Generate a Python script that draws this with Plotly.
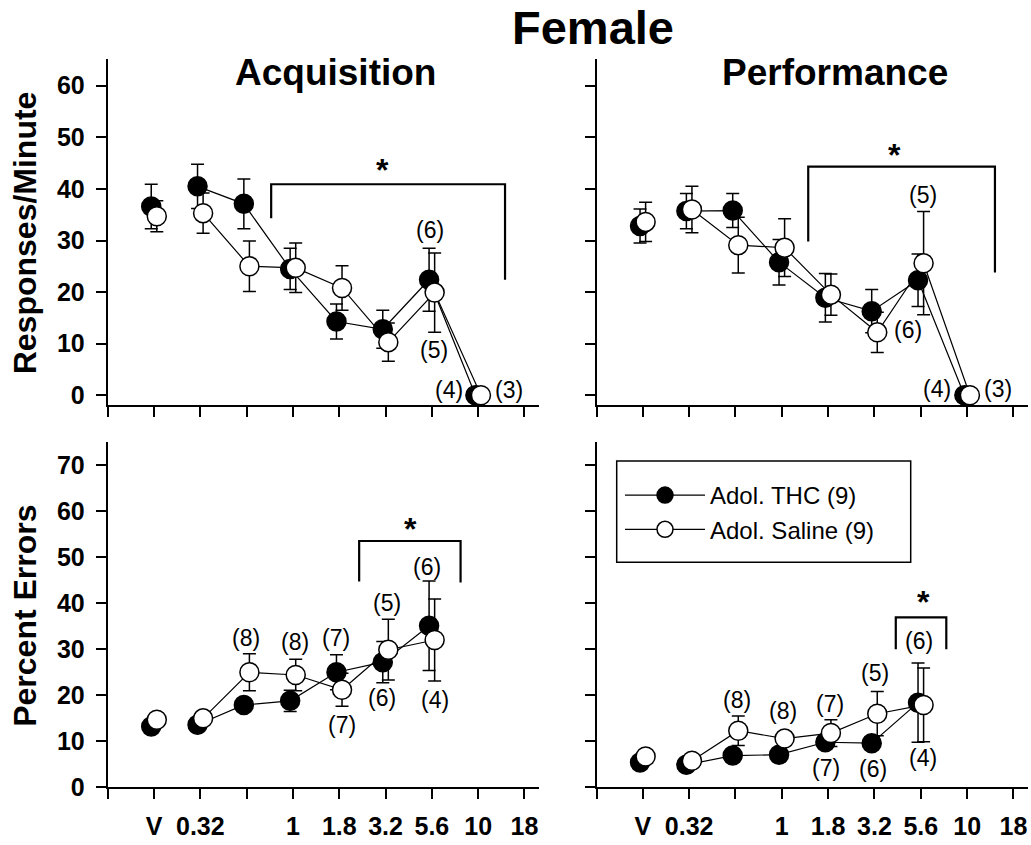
import plotly.graph_objects as go

W, H = 1031, 845
FONT = "Liberation Sans, Arial, sans-serif"

# ---------------- data ----------------
# x axis: categorical dose positions (index 0 = axis origin)
tick_pos = [0, 1, 2, 3, 4, 5, 6, 7, 8, 9]
tick_text = ["", "V", "0.32", "", "1", "1.8", "3.2", "5.6", "10", "18"]
doses_rate = ["V", "0.32", "0.56", "1", "1.8", "3.2", "5.6", "10"]
doses_err = ["V", "0.32", "0.56", "1", "1.8", "3.2", "5.6"]
dose_index = {"V": 1, "0.32": 2, "0.56": 3, "1": 4, "1.8": 5, "3.2": 6, "5.6": 7, "10": 8, "18": 9}

# Responses/Minute - Acquisition
acq_rate_thc = [36.6, 40.5, 37.1, 24.5, 14.3, 12.8, 22.4, 0.0]
acq_rate_thc_sem = [4.3, 4.3, 4.8, 4.0, 3.4, 3.7, 6.1, 0.0]
acq_rate_sal = [34.7, 35.3, 25.0, 24.7, 20.8, 10.3, 19.9, 0.0]
acq_rate_sal_sem = [3.0, 3.9, 4.9, 4.8, 4.3, 3.7, 7.7, 0.0]

# Responses/Minute - Performance
perf_rate_thc = [32.8, 35.7, 35.8, 25.8, 18.9, 16.3, 22.3, 0.0]
perf_rate_thc_sem = [3.3, 3.4, 3.3, 4.4, 4.7, 4.2, 5.1, 0.0]
perf_rate_sal = [33.6, 36.0, 29.1, 28.6, 19.5, 12.2, 25.6, 0.0]
perf_rate_sal_sem = [3.8, 4.5, 5.4, 5.6, 4.0, 3.9, 10.0, 0.0]

# Percent Errors - Acquisition
acq_err_thc = [13.2, 13.6, 17.9, 18.8, 25.0, 27.2, 35.1]
acq_err_thc_sem = [0.8, 0.8, 1.0, 2.3, 3.8, 4.5, 9.7]
acq_err_sal = [14.7, 15.0, 25.0, 24.4, 21.2, 29.9, 32.0]
acq_err_sal_sem = [0.8, 0.8, 4.0, 3.4, 3.6, 6.6, 8.9]

# Percent Errors - Performance
perf_err_thc = [5.4, 4.9, 6.9, 7.1, 9.8, 9.6, 18.4]
perf_err_thc_sem = [0.8, 0.8, 1.0, 1.0, 1.5, 1.0, 8.6]
perf_err_sal = [6.7, 5.8, 12.3, 10.6, 11.8, 16.0, 17.9]
perf_err_sal_sem = [0.8, 0.8, 3.2, 1.5, 2.9, 4.8, 8.0]

# group-size labels: (panel, x position index, y value, text)
n_labels = [
    (1, 6.96, 32.0, "(6)"), (1, 7.05, 8.8, "(5)"), (1, 7.37, 1.1, "(4)"), (1, 8.67, 1.1, "(3)"),
    (2, 7.05, 38.9, "(5)"), (2, 6.72, 12.6, "(6)"), (2, 7.34, 1.2, "(4)"), (2, 8.67, 1.2, "(3)"),
    (3, 2.98, 32.4, "(8)"), (3, 4.04, 31.5, "(8)"), (3, 4.94, 32.4, "(7)"), (3, 5.05, 13.6, "(7)"),
    (3, 6.04, 40.1, "(5)"), (3, 5.92, 19.4, "(6)"), (3, 6.90, 47.9, "(6)"), (3, 7.07, 19.0, "(4)"),
    (4, 3.04, 18.9, "(8)"), (4, 4.03, 16.5, "(8)"), (4, 5.05, 18.1, "(7)"), (4, 4.96, 4.2, "(7)"),
    (4, 6.01, 24.8, "(5)"), (4, 5.96, 4.0, "(6)"), (4, 6.96, 31.7, "(6)"), (4, 7.05, 6.4, "(4)"),
]

# significance brackets: panel, x_left, x_right, y_top, y_left_end, y_right_end, star_x, star_y
brackets = [
    (1, 3.53, 8.58, 40.9, 34.3, 22.4, 5.93, 44.7),
    (2, 4.57, 8.60, 44.3, 29.8, 23.8, 6.44, 47.6),
    (3, 5.43, 7.62, 53.5, 44.7, 44.5, 6.53, 57.3),
    (4, 6.46, 7.55, 36.9, 30.0, 30.0, 7.05, 41.4),
]

# ---------------- layout geometry ----------------
xdom_left = [107.7 / W, 539.3 / W]
xdom_right = [596.5 / W, 1028.3 / W]
ydom_top = [1 - 405.3 / H, 1 - 59.3 / H]
ydom_bot = [1 - 787.4 / H, 1 - 441.7 / H]
x_range = [0, 9.32]
y_range_top = [-1.94, 65.12]
y_range_bot = [0, 75.06]
OFF = 0.06

fig = go.Figure()

panels = [
    (1, doses_rate, acq_rate_thc, acq_rate_thc_sem, acq_rate_sal, acq_rate_sal_sem),
    (2, doses_rate, perf_rate_thc, perf_rate_thc_sem, perf_rate_sal, perf_rate_sal_sem),
    (3, doses_err, acq_err_thc, acq_err_thc_sem, acq_err_sal, acq_err_sal_sem),
    (4, doses_err, perf_err_thc, perf_err_thc_sem, perf_err_sal, perf_err_sal_sem),
]

def axes_ids(p):
    return ("x" if p == 1 else f"x{p}"), ("y" if p == 1 else f"y{p}")

for p, doses, thc, thc_sem, sal, sal_sem in panels:
    xa, ya = axes_ids(p)
    xs = [dose_index[d] for d in doses]
    for name, vals, sem, fill, off in [
        ("Adol. THC (9)", thc, thc_sem, "black", -OFF),
        ("Adol. Saline (9)", sal, sal_sem, "white", OFF),
    ]:
        common = dict(
            mode="markers+lines",
            marker=dict(size=19, color=fill, line=dict(color="black", width=1.5)),
            line=dict(color="black", width=1.2),
            xaxis=xa, yaxis=ya, cliponaxis=False,
        )
        # vehicle point (not connected)
        fig.add_trace(go.Scatter(
            x=[xs[0] + off], y=[vals[0]],
            error_y=dict(type="data", array=[sem[0]], color="black", thickness=1.5, width=6.5),
            showlegend=False, **common))
        # dose-effect curve
        fig.add_trace(go.Scatter(
            x=[x + off for x in xs[1:]], y=vals[1:],
            error_y=dict(type="data", array=sem[1:], color="black", thickness=1.5, width=6.5),
            name=name, showlegend=(p == 1), **common))

axis_common = dict(
    showline=True, linecolor="black", linewidth=2, ticks="outside", ticklen=10,
    tickwidth=2, tickcolor="black", showgrid=False, zeroline=False, automargin=False,
    tickfont=dict(family=FONT, size=25, color="black", weight="bold"),
)

for p in [1, 2, 3, 4]:
    xdom = xdom_left if p in (1, 3) else xdom_right
    ydom = ydom_top if p in (1, 2) else ydom_bot
    yr = y_range_top if p in (1, 2) else y_range_bot
    ymax = 60 if p in (1, 2) else 70
    xa, ya = axes_ids(p)
    xkey = "xaxis" if p == 1 else f"xaxis{p}"
    ykey = "yaxis" if p == 1 else f"yaxis{p}"
    fig.update_layout(**{
        xkey: dict(domain=xdom, range=x_range, anchor=ya, tickmode="array",
                   tickvals=tick_pos, ticktext=tick_text,
                   showticklabels=(p in (3, 4)), ticklabelstandoff=6, **axis_common),
        ykey: dict(domain=ydom, range=yr, anchor=xa, tickmode="array",
                   tickvals=list(range(0, ymax + 1, 10)),
                   showticklabels=(p in (1, 3)), ticklabelstandoff=6, **axis_common),
    })

annotations = []
shapes = []
for p, x, y, t in n_labels:
    xa, ya = axes_ids(p)
    annotations.append(dict(x=x, y=y, xref=xa, yref=ya, text=t, showarrow=False,
                            font=dict(family=FONT, size=23, color="black"),
                            xanchor="center", yanchor="middle"))
for p, xl, xr, yt, yl, yre, sx, sy in brackets:
    xa, ya = axes_ids(p)
    shapes.append(dict(type="path", xref=xa, yref=ya,
                       path=f"M {xl},{yl} L {xl},{yt} L {xr},{yt} L {xr},{yre}",
                       line=dict(color="black", width=2.2)))
    annotations.append(dict(x=sx, y=sy, xref=xa, yref=ya, text="*", showarrow=False,
                            font=dict(family=FONT, size=32, color="black", weight="bold"),
                            xanchor="center", yanchor="middle", yshift=-5))

# titles
annotations += [
    dict(x=593.3 / W, y=1 - 27.7 / H, xref="paper", yref="paper", text="Female",
         showarrow=False, font=dict(family=FONT, size=47, color="black", weight="bold"),
         xanchor="center", yanchor="middle"),
    dict(x=335 / W, y=1 - 73 / H, xref="paper", yref="paper", text="Acquisition",
         showarrow=False, font=dict(family=FONT, size=37, color="black", weight="bold"),
         xanchor="center", yanchor="middle"),
    dict(x=835 / W, y=1 - 73 / H, xref="paper", yref="paper", text="Performance",
         showarrow=False, font=dict(family=FONT, size=37, color="black", weight="bold"),
         xanchor="center", yanchor="middle"),
    dict(x=25 / W, y=1 - 233.3 / H, xref="paper", yref="paper", text="Responses/Minute",
         textangle=-90, showarrow=False,
         font=dict(family=FONT, size=32, color="black", weight="bold"),
         xanchor="center", yanchor="middle"),
    dict(x=25 / W, y=1 - 615.8 / H, xref="paper", yref="paper", text="Percent Errors",
         textangle=-90, showarrow=False,
         font=dict(family=FONT, size=32, color="black", weight="bold"),
         xanchor="center", yanchor="middle"),
]

# legend frame
shapes.append(dict(type="rect", xref="paper", yref="paper",
                   x0=616.7 / W, x1=910.7 / W, y0=1 - 562.3 / H, y1=1 - 461 / H,
                   line=dict(color="black", width=1.5), fillcolor="rgba(0,0,0,0)"))

fig.update_layout(
    width=W, height=H, margin=dict(l=0, r=0, t=0, b=0, autoexpand=False),
    paper_bgcolor="white", plot_bgcolor="white",
    annotations=annotations, shapes=shapes,
    showlegend=True,
    legend=dict(x=620 / W, y=1 - 473 / H, xanchor="left", yanchor="top",
                bgcolor="rgba(0,0,0,0)", borderwidth=0,
                font=dict(family=FONT, size=24, color="black"),
                tracegroupgap=0, itemsizing="trace", itemwidth=80),
    font=dict(family=FONT, color="black"),
)

fig.write_html("out.html", config={"displayModeBar": False},
               post_script="document.body.style.margin='0px';document.body.style.overflow='hidden';")
